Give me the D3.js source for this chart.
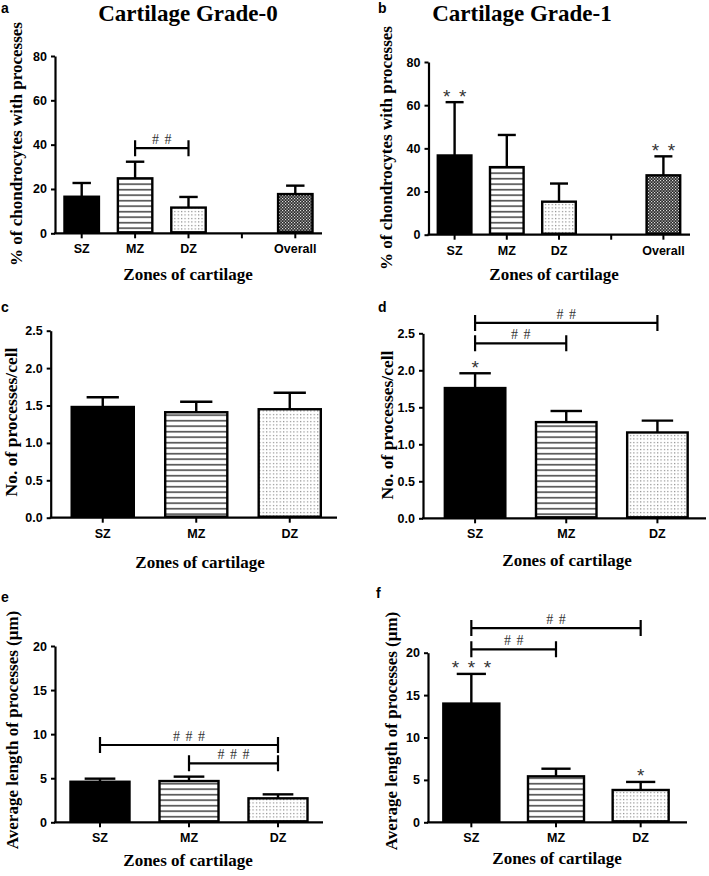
<!DOCTYPE html>
<html><head><meta charset="utf-8">
<script src="https://cdn.jsdelivr.net/npm/d3@7"></script>
<style>
html,body{margin:0;padding:0;background:#fff;}
svg{display:block;}
</style></head>
<body>
<svg id="chart" width="709" height="876"></svg>
<script>
// ---------------- DATA ----------------
const zonesOverall = ["SZ", "MZ", "DZ", "", "Overall"];
const zones = ["SZ", "MZ", "DZ"];

const pctGrade0    = [16.5, 24.8, 11.6, null, 17.7];
const pctGrade0Err = [6.2, 7.5, 4.8, null, 3.8];
const pctGrade1    = [36.7, 31.3, 15.3, null, 27.5];
const pctGrade1Err = [24.7, 14.9, 8.4, null, 8.8];

const procGrade0    = [1.48, 1.41, 1.45];
const procGrade0Err = [0.13, 0.14, 0.22];
const procGrade1    = [1.76, 1.30, 1.16];
const procGrade1Err = [0.20, 0.15, 0.16];

const lenGrade0    = [4.6, 4.68, 2.72];
const lenGrade0Err = [0.35, 0.5, 0.45];
const lenGrade1    = [14.0, 5.42, 3.81];
const lenGrade1Err = [3.5, 0.9, 0.95];

const pctTicks  = [0, 20, 40, 60, 80];
const procTicks = [0, 0.5, 1.0, 1.5, 2.0, 2.5];
const lenTicks  = [0, 5, 10, 15, 20];

const bracketsA = [{from: "MZ", to: "DZ", value: 38.4, label: "# #"}];
const bracketsD = [{from: "SZ", to: "DZ", value: 2.64, label: "# #"},
                   {from: "SZ", to: "MZ", value: 2.365, label: "# #"}];
const bracketsE = [{from: "SZ", to: "DZ", value: 8.77, label: "# # #"},
                   {from: "MZ", to: "DZ", value: 6.69, label: "# # #"}];
const bracketsF = [{from: "SZ", to: "DZ", value: 22.9, label: "# #"},
                   {from: "SZ", to: "MZ", value: 20.4, label: "# #"}];

const starsB = [{zone: "SZ", label: "* *"}, {zone: "Overall", label: "* *"}];
const starsD = [{zone: "SZ", label: "*"}];
const starsF = [{zone: "SZ", label: "* * *"}, {zone: "DZ", label: "*"}];

const titleG0 = "Cartilage Grade-0";
const titleG1 = "Cartilage Grade-1";
const yTitlePct  = "% of chondrocytes with processes";
const yTitleProc = "No. of processes/cell";
const yTitleLen  = "Average length of processes (\u03bcm)";
const xTitle = "Zones of cartilage";

// ---------------- LAYOUT ----------------
const svg = d3.select("#chart");
const SERIF = "'Liberation Serif','Times New Roman',serif";
const SANS  = "'Liberation Sans',Arial,sans-serif";

const defs = svg.append("defs");
const ps = defs.append("pattern").attr("id", "stripes").attr("patternUnits", "userSpaceOnUse")
  .attr("width", 6).attr("height", 5.5);
ps.append("rect").attr("width", 6).attr("height", 5.5).attr("fill", "#fff");
ps.append("rect").attr("y", 2).attr("width", 6).attr("height", 1.4).attr("fill", "#333");
const pd = defs.append("pattern").attr("id", "dots").attr("patternUnits", "userSpaceOnUse")
  .attr("width", 3.4).attr("height", 3.5);
pd.append("rect").attr("width", 3.4).attr("height", 3.5).attr("fill", "#fff");
pd.append("rect").attr("x", 1).attr("y", 1).attr("width", 1).attr("height", 1).attr("fill", "#555");
const pc = defs.append("pattern").attr("id", "checker").attr("patternUnits", "userSpaceOnUse")
  .attr("width", 3).attr("height", 3);
pc.append("rect").attr("width", 3).attr("height", 3).attr("fill", "#2a2a2a");
pc.append("rect").attr("x", 0).attr("y", 0).attr("width", 1.2).attr("height", 1.2).attr("fill", "#ddd");
pc.append("rect").attr("x", 1.5).attr("y", 1.5).attr("width", 1.2).attr("height", 1.2).attr("fill", "#ddd");

const fills = {SZ: "#000", MZ: "url(#stripes)", DZ: "url(#dots)", Overall: "url(#checker)"};

// draws the glyphs of a spaced label ("# #", "* * *") one by one at a fixed pitch
function spacedLabel(g, label, cx, baseline, pitch, font, size, color, weight) {
  const glyphs = label.split(" ");
  glyphs.forEach((ch, k) => {
    g.append("text").attr("x", cx + (k - (glyphs.length - 1) / 2) * pitch).attr("y", baseline)
      .attr("text-anchor", "middle").attr("font-family", font).attr("font-size", size)
      .attr("font-weight", weight).attr("fill", color).text(ch);
  });
}

function panel(cfg) {
  const g = svg.append("g");
  const x = d3.scaleBand().domain(cfg.cats).range(cfg.xr).paddingInner(0.31).paddingOuter(0.155);
  const y = d3.scaleLinear().domain([0, d3.max(cfg.ticks)]).range(cfg.yr);

  const rows = cfg.cats.map((c, i) => ({c, v: cfg.values[i], e: cfg.errs[i]})).filter(d => d.v != null);
  const bw = x.bandwidth();
  rows.forEach(d => {
    const cx = x(d.c) + bw / 2;
    g.append("line").attr("x1", cx).attr("x2", cx).attr("y1", y(d.v)).attr("y2", y(d.v + d.e))
      .attr("stroke", "#000").attr("stroke-width", 2.4);
    g.append("line").attr("x1", cx - bw / 4).attr("x2", cx + bw / 4)
      .attr("y1", y(d.v + d.e)).attr("y2", y(d.v + d.e))
      .attr("stroke", "#000").attr("stroke-width", 2.4);
    g.append("rect").attr("x", x(d.c) + 1.2).attr("width", bw - 2.4)
      .attr("y", y(d.v)).attr("height", y(0) - y(d.v) - 1)
      .attr("fill", fills[d.c]).attr("stroke", "#000").attr("stroke-width", 2.4);
  });

  const ya = g.append("g").attr("transform", `translate(${cfg.axisX},0)`)
    .call(d3.axisLeft(y).tickValues(cfg.ticks).tickFormat(cfg.fmt).tickSize(4).tickPadding(4).tickSizeOuter(0));
  ya.select(".domain").attr("stroke-width", 2.2);
  ya.selectAll(".tick line").attr("stroke-width", 2);
  ya.selectAll("text").attr("font-family", SANS).attr("font-weight", "bold").attr("font-size", 12.5).attr("fill", "#000");

  const xa = g.append("g").attr("transform", `translate(0,${cfg.yr[0]})`)
    .call(d3.axisBottom(x).tickSize(5).tickPadding(6).tickSizeOuter(0));
  xa.select(".domain").remove();
  xa.selectAll(".tick line").attr("stroke-width", 2);
  xa.selectAll("text").attr("font-family", SANS).attr("font-weight", "bold").attr("font-size", 12.5).attr("fill", "#000");
  g.append("line").attr("x1", cfg.axisX - 1).attr("x2", cfg.axisEnd)
    .attr("y1", cfg.yr[0]).attr("y2", cfg.yr[0]).attr("stroke", "#000").attr("stroke-width", 2.2);

  (cfg.brackets || []).forEach(b => {
    const x1 = x(b.from) + bw / 2, x2 = x(b.to) + bw / 2, yy = y(b.value);
    g.append("path").attr("d", `M${x1},${yy - 8}V${yy + 8}M${x1},${yy}H${x2}M${x2},${yy - 8}V${yy + 8}`)
      .attr("fill", "none").attr("stroke", "#000").attr("stroke-width", 2.2);
    spacedLabel(g, b.label, (x1 + x2) / 2, yy - 4, 12.5, SERIF, 14, "#333", "normal");
  });

  (cfg.stars || []).forEach(s => {
    const i = cfg.cats.indexOf(s.zone);
    const cx = x(s.zone) + bw / 2;
    spacedLabel(g, s.label, cx, y(cfg.values[i] + cfg.errs[i]) + 0.5, 16, SANS, 19, "#333", "normal");
  });

  g.append("text").attr("x", cfg.letter[0]).attr("y", cfg.letter[1])
    .attr("font-family", SANS).attr("font-weight", "bold").attr("font-size", 14).text(cfg.letter[2]);
  if (cfg.title) {
    g.append("text").attr("x", cfg.title[0]).attr("y", cfg.title[1]).attr("text-anchor", "middle")
      .attr("font-family", SERIF).attr("font-weight", "bold").attr("font-size", 23).text(cfg.title[2]);
  }
  g.append("text").attr("transform", `translate(${cfg.yTitle[0]},${cfg.yTitle[1]}) rotate(-90)`)
    .attr("text-anchor", "middle").attr("font-family", SERIF).attr("font-weight", "bold")
    .attr("font-size", cfg.yTitle[3]).text(cfg.yTitle[2]);
  g.append("text").attr("x", cfg.xTitle[0]).attr("y", cfg.xTitle[1]).attr("text-anchor", "middle")
    .attr("font-family", SERIF).attr("font-weight", "bold").attr("font-size", 17).text(xTitle);
}

const fmt0 = d3.format("d"), fmt1 = d3.format(".1f");

panel({cats: zonesOverall, values: pctGrade0, errs: pctGrade0Err, ticks: pctTicks, fmt: fmt0,
  axisX: 55, xr: [55, 322], axisEnd: 322, yr: [233.3, 56], brackets: bracketsA,
  letter: [1, 12.5, "a"], title: [188, 20.5, titleG0], yTitle: [21.5, 144, yTitlePct, 17], xTitle: [188, 280]});
panel({cats: zonesOverall, values: pctGrade1, errs: pctGrade1Err, ticks: pctTicks, fmt: fmt0,
  axisX: 428.5, xr: [428.5, 689.5], axisEnd: 690, yr: [234.7, 62], stars: starsB,
  letter: [378, 12.5, "b"], title: [522, 20.5, titleG1], yTitle: [392, 148, yTitlePct, 17], xTitle: [554, 280]});
panel({cats: zones, values: procGrade0, errs: procGrade0Err, ticks: procTicks, fmt: fmt1,
  axisX: 50.7, xr: [56, 336.5], axisEnd: 337, yr: [517.7, 330.7],
  letter: [1, 312, "c"], yTitle: [16.5, 422, yTitleProc, 17.5], xTitle: [200, 568]});
panel({cats: zones, values: procGrade1, errs: procGrade1Err, ticks: procTicks, fmt: fmt1,
  axisX: 423, xr: [429.5, 703], axisEnd: 706, yr: [518.3, 333.3], brackets: bracketsD, stars: starsD,
  letter: [378, 312, "d"], yTitle: [393, 425, yTitleProc, 17.5], xTitle: [567, 566]});
panel({cats: zones, values: lenGrade0, errs: lenGrade0Err, ticks: lenTicks, fmt: fmt0,
  axisX: 55, xr: [55.5, 322.5], axisEnd: 323, yr: [822.3, 646], brackets: bracketsE,
  letter: [1, 602, "e"], yTitle: [18, 730, yTitleLen, 17], xTitle: [188, 866]});
panel({cats: zones, values: lenGrade1, errs: lenGrade1Err, ticks: lenTicks, fmt: fmt0,
  axisX: 428, xr: [429, 683], axisEnd: 687, yr: [822.3, 652.7], brackets: bracketsF, stars: starsF,
  letter: [376, 598, "f"], yTitle: [397, 731, yTitleLen, 17], xTitle: [557, 864]});
</script>
</body></html>
